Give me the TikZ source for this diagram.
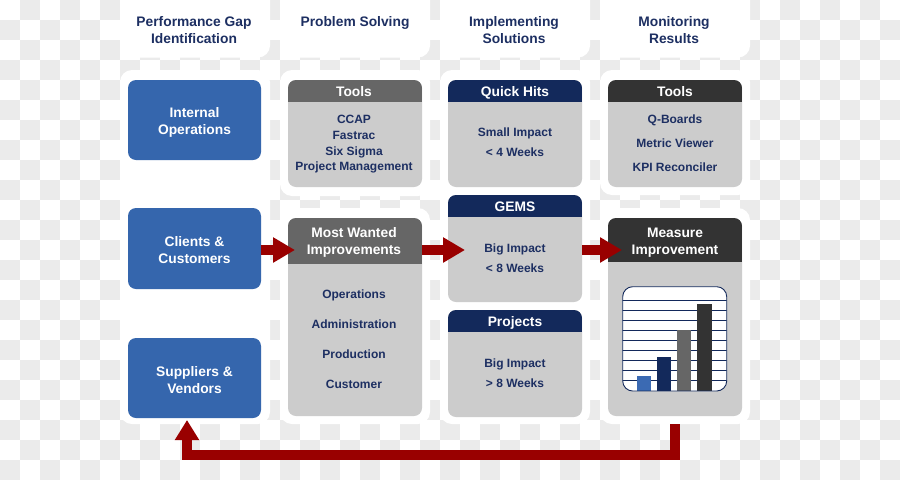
\documentclass[tikz,border=0pt]{standalone}
\usepackage{fontspec}
\setmainfont{Liberation Sans}
\usetikzlibrary{arrows.meta,calc}
\definecolor{chk}{HTML}{EBEBEB}
\definecolor{boxblue}{HTML}{3566AD}
\definecolor{navy}{HTML}{13295B}
\definecolor{txtnavy}{HTML}{1D2F62}
\definecolor{hgray}{HTML}{666666}
\definecolor{hdark}{HTML}{333333}
\definecolor{bodygray}{HTML}{CCCCCC}
\definecolor{arrred}{HTML}{990000}
\definecolor{barblue}{HTML}{3B6AB3}
\newcommand\figbig{\fontsize{13.8}{17.5}\selectfont\bfseries}
\newcommand\figsmall{\fontsize{12}{15.8}\selectfont\bfseries}
\newcommand\headfill[3]{%
  \begin{scope}
    \clip[rounded corners=8pt] (#1.north west) rectangle (#1.south east);
    \fill[#3] (#1.north west) rectangle ([yshift=-#2]#1.north east);
  \end{scope}}
\begin{document}
\begin{tikzpicture}[x=1pt,y=-1pt,
  panel/.style={fill=white, rounded corners=12pt, inner sep=0pt, outer sep=0pt, anchor=north west, minimum width=150pt},
  bluebox/.style={fill=boxblue, rounded corners=8pt, inner sep=0pt, outer sep=0pt, anchor=north west, minimum width=133pt, minimum height=80pt},
  graybox/.style={fill=bodygray, rounded corners=8pt, inner sep=0pt, outer sep=0pt, anchor=north west, minimum width=134pt},
  coltitle/.style={text=txtnavy, font=\figbig, align=center, inner sep=0pt, text height=9.9pt, text depth=0pt},
  bluetext/.style={text=white, font=\figbig, align=center, inner sep=0pt, text height=9.9pt, text depth=0pt},
  hdtext/.style={text=white, font=\figbig, align=center, inner sep=0pt, text height=9.9pt, text depth=0pt},
  item/.style={text=txtnavy, font=\figsmall, align=center, inner sep=0pt, text height=8.6pt, text depth=0pt},
  redarrow/.style={draw=arrred, line width=10pt, -{Triangle[length=22pt,width=24pt]}},
  fbarrow/.style={draw=arrred, line width=10pt, line join=miter, -{Triangle[length=20pt,width=23pt]}}
]
\useasboundingbox (0,0) rectangle (900,480);
\clip (0,0) rectangle (900,480);
% checkerboard background
\fill[white] (0,0) rectangle (900,480);
\foreach \j in {0,2,...,22} {\foreach \i in {1,3,...,43} {\fill[chk] (20*\i,20*\j) rectangle ++(20,20);}}
\foreach \j in {1,3,...,23} {\foreach \i in {0,2,...,44} {\fill[chk] (20*\i,20*\j) rectangle ++(20,20);}}

% white panels
\node[panel, minimum height=72.5pt] (hp1) at (120,-15) {};
\node[panel, minimum height=72.5pt] (hp2) at (280,-15) {};
\node[panel, minimum height=72.5pt] (hp3) at (440,-15) {};
\node[panel, minimum height=72.5pt] (hp4) at (600,-15) {};
\node[panel, minimum height=354pt] (p1) at (120,70) {};
\node[panel, minimum height=126pt] (p2a) at (280,70) {};
\node[panel, minimum height=216pt] (p2b) at (280,208) {};
\node[panel, minimum height=354pt] (p3) at (440,70) {};
\node[panel, minimum height=125pt] (p4a) at (600,70) {};
\node[panel, minimum height=216pt] (p4b) at (600,208) {};

% column titles (two-line nodes are placed by their last line)
\node[coltitle] (c1) at (194,39) {Performance Gap\\Identification};
\node[coltitle] (c2) at (355,21.7) {Problem Solving};
\node[coltitle] (c3) at (514,39) {Implementing\\Solutions};
\node[coltitle] (c4) at (674,39) {Monitoring\\Results};

% column 1
\node[bluebox] (int) at (128,80) {};
\node[bluetext] (intt) at (194.5,130) {Internal\\Operations};
\node[bluebox, minimum height=81pt] (cli) at (128,208) {};
\node[bluetext] (clit) at (194.5,259) {Clients \&\\Customers};
\node[bluebox] (sup) at (128,338) {};
\node[bluetext] (supt) at (194.5,389) {Suppliers \&\\Vendors};

% column 2
\node[graybox, minimum height=107pt] (tl1) at (288,80) {};
\headfill{tl1}{22pt}{hgray}
\node[hdtext] (tl1h) at (354,92) {Tools};
\node[item] (tl1a) at (354,119) {CCAP};
\node[item] (tl1b) at (354,135) {Fastrac};
\node[item] (tl1c) at (354,151) {Six Sigma};
\node[item] (tl1d) at (354,166.5) {Project Management};

\node[graybox, minimum height=198pt] (mwi) at (288,218) {};
\headfill{mwi}{46pt}{hgray}
\node[hdtext] (mwih) at (354,250) {Most Wanted\\Improvements};
\node[item] (mwia) at (354,294) {Operations};
\node[item] (mwib) at (354,324) {Administration};
\node[item] (mwic) at (354,354) {Production};
\node[item] (mwid) at (354,384) {Customer};

% column 3
\node[graybox, minimum height=107pt] (qh) at (448,80) {};
\headfill{qh}{22pt}{navy}
\node[hdtext] (qhh) at (515,92) {Quick Hits};
\node[item] (qha) at (515,132) {Small Impact};
\node[item] (qhb) at (515,152) {< 4 Weeks};

\node[graybox, minimum height=107pt] (gems) at (448,195) {};
\headfill{gems}{22pt}{navy}
\node[hdtext] (gemsh) at (515,207) {GEMS};
\node[item] (gemsa) at (515,248) {Big Impact};
\node[item] (gemsb) at (515,268) {< 8 Weeks};

\node[graybox, minimum height=107pt] (proj) at (448,310) {};
\headfill{proj}{22pt}{navy}
\node[hdtext] (projh) at (515,322) {Projects};
\node[item] (proja) at (515,363) {Big Impact};
\node[item] (projb) at (515,383) {> 8 Weeks};

% column 4
\node[graybox, minimum height=107pt] (tl2) at (608,80) {};
\headfill{tl2}{22pt}{hdark}
\node[hdtext] (tl2h) at (675,92) {Tools};
\node[item] (tl2a) at (675,119) {Q-Boards};
\node[item] (tl2b) at (675,143) {Metric Viewer};
\node[item] (tl2c) at (675,167) {KPI Reconciler};

\node[graybox, minimum height=198pt] (meas) at (608,218) {};
\headfill{meas}{44pt}{hdark}
\node[hdtext] (meash) at (675,250) {Measure\\Improvement};

% chart
\node[fill=white, rounded corners=10pt, inner sep=0pt, outer sep=0pt, anchor=north west,
      minimum width=104pt, minimum height=104.3pt] (chart) at (622.7,286.7) {};
\begin{scope}
  \clip[rounded corners=10pt] (chart.north west) rectangle (chart.south east);
  \foreach \yy in {300,310,...,380} {\draw[navy, line width=0.9pt] (600,\yy) -- (750,\yy);}
\end{scope}
\fill[barblue] (636.5,375.5) rectangle (651,391);
\fill[navy] (656.7,356.5) rectangle (671,391);
\fill[hgray] (676.7,330) rectangle (691,391);
\fill[hdark] (697.3,304.3) rectangle (712.3,391);
\draw[navy, line width=0.9pt, rounded corners=10pt] (chart.north west) rectangle (chart.south east);

% flow arrows
\coordinate (flow) at (0,250);
\draw[redarrow] (cli.east |- flow) -- ($(flow -| mwi.west)+(7,0)$);
\draw[redarrow] (mwi.east |- flow) -- ($(flow -| gems.west)+(17,0)$);
\draw[redarrow] (gems.east |- flow) -- ($(flow -| meas.west)+(14,0)$);

% feedback arrow
\draw[fbarrow] (p4b.south) -- ++(0,31) -| ([xshift=-7.5pt,yshift=-2pt]sup.south);
\end{tikzpicture}
\end{document}
